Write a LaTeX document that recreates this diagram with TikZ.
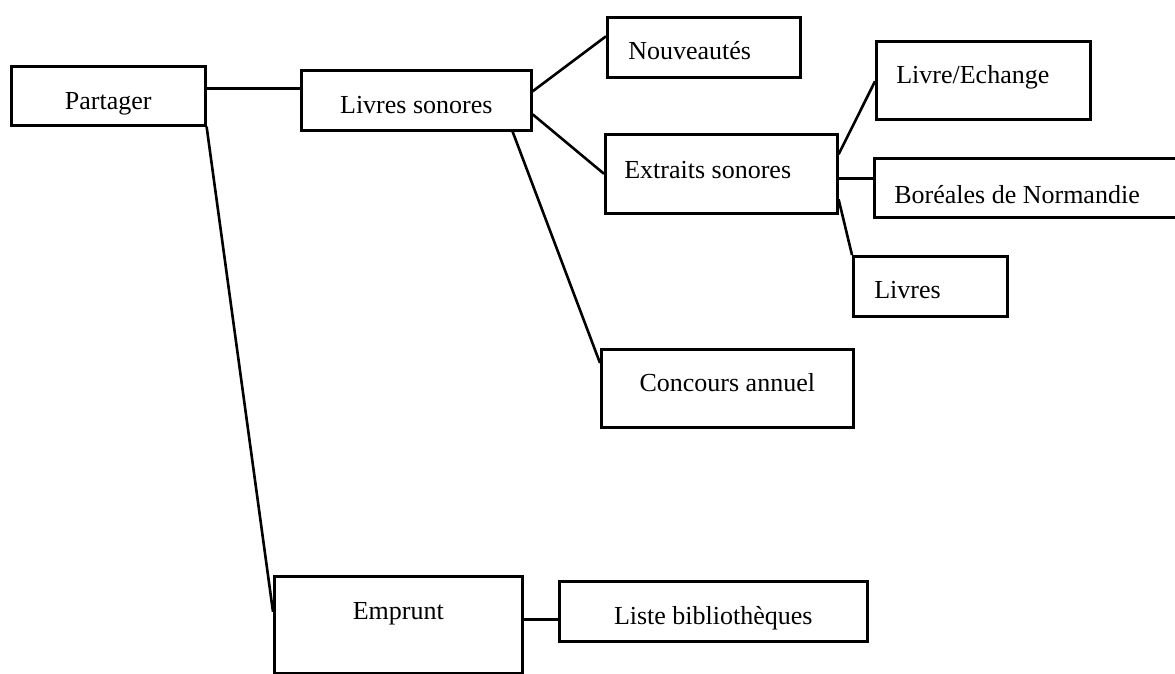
\documentclass[tikz,border=0pt]{standalone}
\usepackage{fontspec}
\setmainfont{Liberation Serif}
\newcommand{\lbx}[4]{\makebox[#1pt][l]{\hspace*{#2pt}\raisebox{#3pt}{#4}}}
\newcommand{\cbx}[3]{\makebox[#1pt][c]{\raisebox{#2pt}{#3}}}
\tikzset{
  box/.style={draw, line width=2.6pt, inner sep=0pt, anchor=north west,
    text height=18pt, text depth=0pt, font=\fontsize{26}{30}\selectfont},
  link/.style={line width=2.6pt}
}
\begin{document}
\begin{tikzpicture}[x=1pt,y=-1pt]
\useasboundingbox (0,0) rectangle (1175,673);
\clip (0,0) rectangle (1175,673);
\node[box, minimum height=59pt] (part) at (10,65) {\cbx{194}{-4.5}{Partager}};
\node[box, minimum height=60pt] (ls) at (300,69) {\cbx{230}{-4}{Livres sonores}};
\node[box, minimum height=60pt] (nouv) at (606,16) {\lbx{193}{21}{-3}{Nouveautés}};
\node[box, minimum height=79pt] (ext) at (604,133) {\lbx{232}{19}{4.5}{Extraits sonores}};
\node[box, minimum height=78pt] (le) at (875,40) {\lbx{214}{20}{6}{Livre/Echange}};
\node[box, minimum height=59pt] (bor) at (873,157) {\lbx{320}{20}{-6.5}{Boréales de Normandie}};
\node[box, minimum height=60pt] (liv) at (852,255) {\lbx{154}{21}{-3}{Livres}};
\node[box, minimum height=78pt] (conc) at (600,348) {\cbx{252}{6}{Concours annuel}};
\node[box, minimum height=97pt] (emp) at (273,575) {\cbx{248}{14.5}{Emprunt}};
\node[box, minimum height=60pt] (liste) at (558,580) {\cbx{308}{-4}{Liste bibliothèques}};
\draw[link] ([yshift=7.5pt]part.east) -- ([yshift=12pt]ls.west);
\draw[link] ([yshift=9pt]ls.east) -- ([yshift=11pt]nouv.west);
\draw[link] ([yshift=-14pt]ls.east) -- (ext.west);
\draw[link] ([xshift=-20pt]ls.south east) -- ([yshift=-15pt]conc.north west);
\draw[link] (part.south east) -- ([yshift=13pt]emp.west);
\draw[link] ([yshift=19.5pt]ext.east) -- ([yshift=-1pt]le.west);
\draw[link] ([yshift=-4.5pt]ext.east) -- ([yshift=9.5pt]bor.west);
\draw[link] ([yshift=-25.5pt]ext.east) -- (liv.north west);
\draw[link] ([yshift=5.5pt]emp.east) -- ([yshift=-8pt]liste.west);
\end{tikzpicture}
\end{document}
